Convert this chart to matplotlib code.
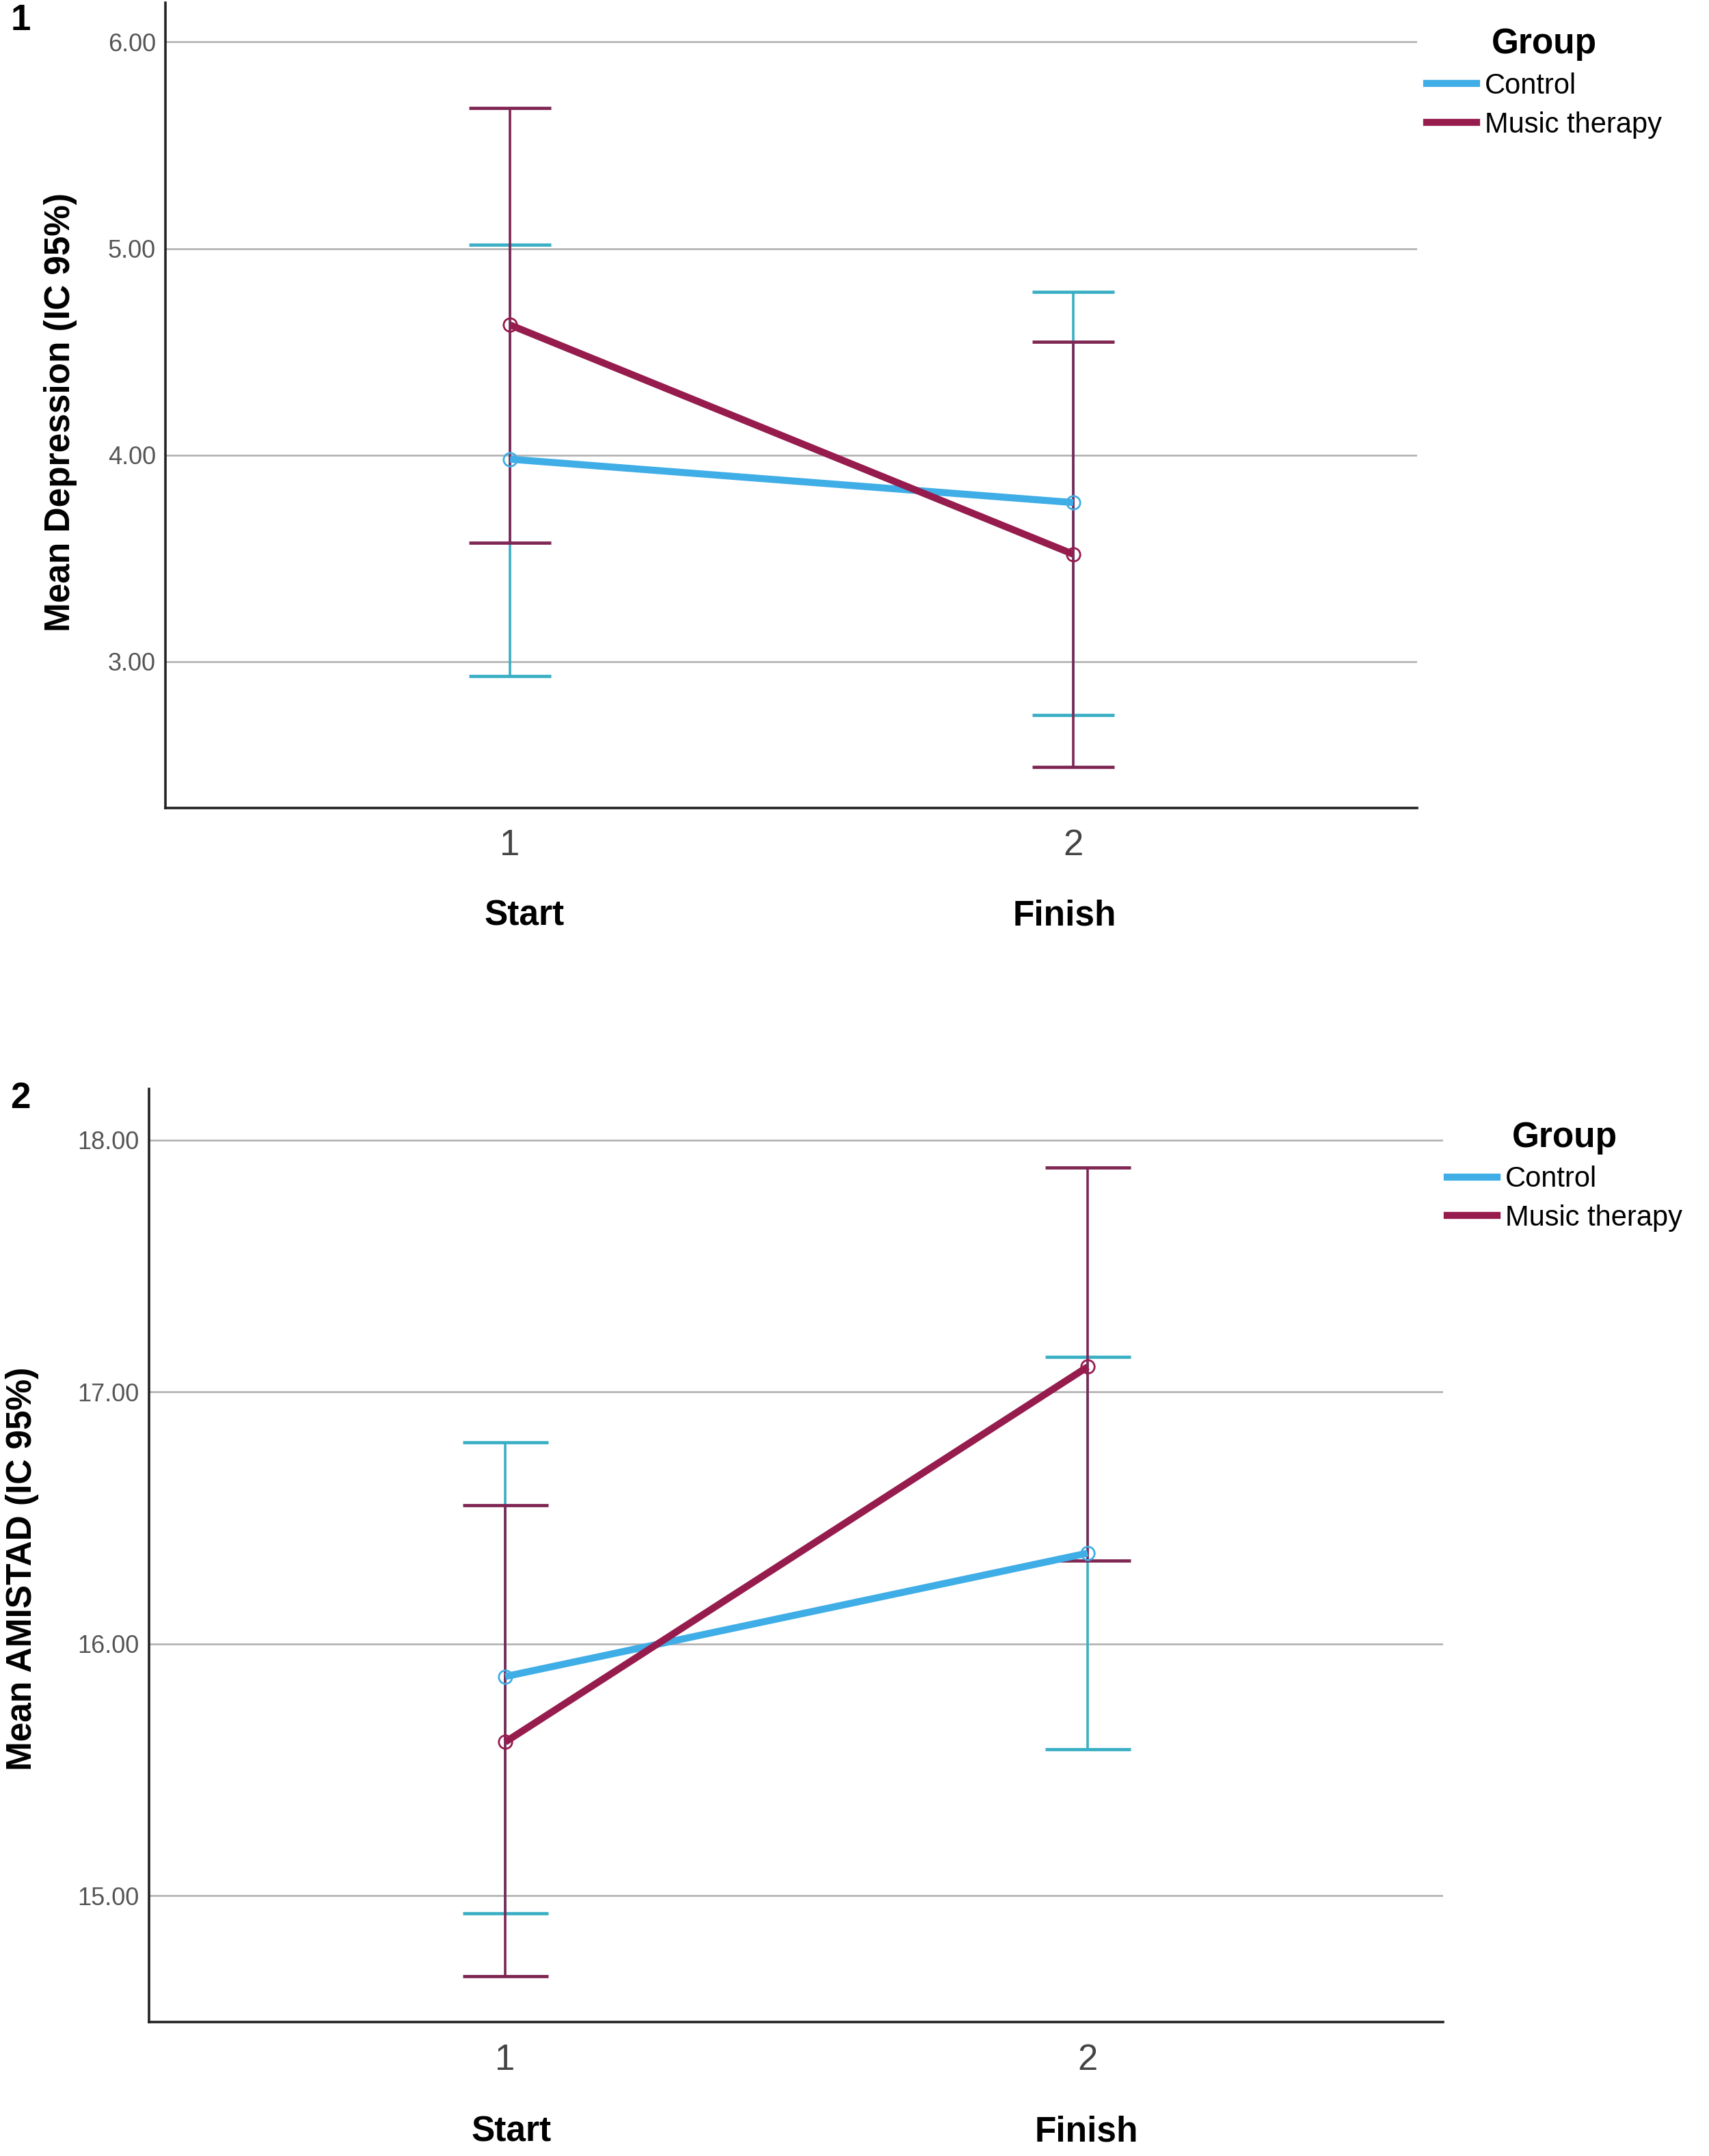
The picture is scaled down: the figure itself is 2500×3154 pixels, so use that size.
import matplotlib
matplotlib.use('Agg')
import matplotlib.pyplot as plt
import numpy as np
from matplotlib.lines import Line2D
from matplotlib.transforms import blended_transform_factory

# ---------------- data ----------------
groups = ['Control', 'Music therapy']
times = [1, 2]
tick_labels = ['1', '2']
time_labels = ['Start', 'Finish']

# Panel 1: Depression
dep_control_mean = [3.98, 3.77]
dep_control_lo = [2.93, 2.74]
dep_control_hi = [5.02, 4.79]
dep_music_mean = [4.63, 3.52]
dep_music_lo = [3.575, 2.49]
dep_music_hi = [5.68, 4.55]
dep_yticks = [3.0, 4.0, 5.0, 6.0]
dep_yticklabels = ['3.00', '4.00', '5.00', '6.00']

# Panel 2: AMISTAD
ami_control_mean = [15.87, 16.36]
ami_control_lo = [14.93, 15.58]
ami_control_hi = [16.80, 17.14]
ami_music_mean = [15.61, 17.10]
ami_music_lo = [14.68, 16.33]
ami_music_hi = [16.55, 17.89]
ami_yticks = [15.0, 16.0, 17.0, 18.0]
ami_yticklabels = ['15.00', '16.00', '17.00', '18.00']

# ---------------- style ----------------
line_col = {'Control': '#3FADE6', 'Music therapy': '#961C4E'}
err_col = {'Control': '#3AAFC4', 'Music therapy': '#7E2653'}
NARROW = ['Liberation Sans Narrow', 'Liberation Sans', 'DejaVu Sans']
SANS = ['Liberation Sans', 'DejaVu Sans']

W, H = 2500, 3154
DPI = 200
fig = plt.figure(figsize=(W / DPI, H / DPI), dpi=DPI)
fig.patch.set_facecolor('white')

DW, DH = 1240.0, 1564.0  # display-scale coordinates used for layout


def rect(l, t, r, b):
    return [l / DW, 1 - b / DH, (r - l) / DW, (b - t) / DH]


def panel(ax_rect, cm, clo, chi, mm, mlo, mhi, ylim, yticks, yticklabels,
          ylabel, ylab_xy, panel_label, plabel_xy, legend_xy, xlab_off, capsize, xlab_y):
    ax = fig.add_axes(ax_rect)
    ax.set_xlim(0.388, 2.61)
    ax.set_ylim(*ylim)
    ax.set_axisbelow(True)
    for y in yticks:
        ax.axhline(y, color='#ADADAD', lw=0.9, zorder=0)
    series = [('Control', cm, clo, chi), ('Music therapy', mm, mlo, mhi)]
    for g, m, lo, hi in series:
        m = np.array(m); lo = np.array(lo); hi = np.array(hi)
        ax.errorbar(times, m, yerr=[m - lo, hi - m], fmt='none',
                    ecolor=err_col[g], elinewidth=1.3, capsize=capsize,
                    capthick=1.7, zorder=2)
    for g, m, lo, hi in series:
        ax.plot(times, m, color=line_col[g], lw=3.7, zorder=3,
                marker='o', ms=7, mfc='none', mec=line_col[g], mew=1.0,
                solid_capstyle='butt')
    for s in ['top', 'right']:
        ax.spines[s].set_visible(False)
    for s in ['left', 'bottom']:
        ax.spines[s].set_color('#222222')
        ax.spines[s].set_linewidth(1.3)
    ax.set_xticks(times)
    ax.set_xticklabels(tick_labels, fontfamily=NARROW, fontsize=19, color='#444444')
    ax.set_yticks(yticks)
    ax.set_yticklabels(yticklabels, fontfamily=NARROW, fontsize=13, color='#555555')
    ax.tick_params(axis='both', length=0)
    ax.tick_params(axis='x', pad=11)
    ax.tick_params(axis='y', pad=5)
    ax.set_ylabel(ylabel, fontfamily=SANS, fontweight='bold', fontsize=18.5)
    ax.yaxis.label.set_va('center')
    ax.yaxis.set_label_coords(*ylab_xy)
    trans = blended_transform_factory(ax.transData, ax.transAxes)
    for x, lab, off in zip(times, time_labels, xlab_off):
        ax.text(x + off, xlab_y, lab, transform=trans, ha='center', va='center',
                fontfamily=SANS, fontweight='bold', fontsize=18.5)
    fig.text(plabel_xy[0] / DW, 1 - plabel_xy[1] / DH, panel_label,
             fontfamily=SANS, fontweight='bold', fontsize=19, ha='center', va='center')
    handles = [Line2D([], [], color=line_col[g], lw=3.7) for g in groups]
    fig.legend(handles, groups, loc='upper left',
               bbox_to_anchor=(legend_xy[0] / DW, 1 - legend_xy[1] / DH),
               frameon=False, title='Group', borderpad=0, borderaxespad=0,
               handlelength=1.75, handletextpad=0.3, labelspacing=0.4,
               prop={'family': SANS, 'size': 15},
               title_fontproperties={'family': SANS, 'weight': 'bold', 'size': 18.5})
    return ax


# Panel 1
panel(rect(120, 2, 1028, 586), dep_control_mean, dep_control_lo, dep_control_hi,
      dep_music_mean, dep_music_lo, dep_music_hi, (2.292, 6.19),
      dep_yticks, dep_yticklabels, 'Mean Depression (IC 95%)', (-0.084, 0.491),
      '1', (15, 15), (1035, 20), (0.025, -0.015), 21.5, -0.134)
# Panel 2
panel(rect(108, 790, 1047, 1467), ami_control_mean, ami_control_lo, ami_control_hi,
      ami_music_mean, ami_music_lo, ami_music_hi, (14.497, 18.203),
      ami_yticks, ami_yticklabels, 'Mean AMISTAD (IC 95%)', (-0.098, 0.486),
      '2', (15, 797), (1050, 813), (0.01, -0.002), 22.5, -0.118)

fig.savefig('out.png', dpi=DPI, facecolor='white')
